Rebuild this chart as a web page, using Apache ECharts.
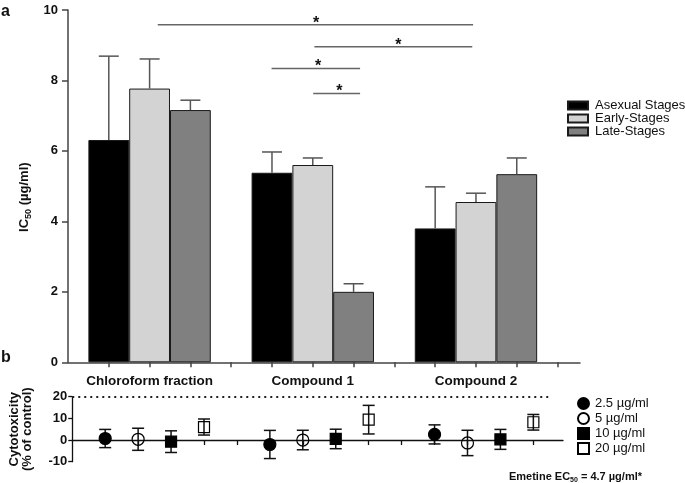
<!DOCTYPE html>
<html><head><meta charset="utf-8">
<script src="https://cdn.jsdelivr.net/npm/echarts@6/dist/echarts.min.js"></script>
<style>html,body{margin:0;padding:0;background:#fff}#c{width:685px;height:483px}</style>
</head><body><div id="c"></div>
<script>
// ---------- data ----------
const groups = ['Chloroform fraction', 'Compound 1', 'Compound 2'];
const stages = ['Asexual Stages', 'Early-Stages', 'Late-Stages'];
const asexual = [6.31, 5.38, 3.80];
const asexualErr = [2.38, 0.59, 1.18];
const early = [7.77, 5.60, 4.55];
const earlyErr = [0.84, 0.20, 0.25];
const late = [7.16, 2.00, 5.34];
const lateErr = [0.28, 0.23, 0.46];
// significance brackets: [from, to, height, star x] in axis units
const sigBrackets = [[2.2, 9.93, 9.58, 6.08], [6.04, 9.91, 8.96, 8.1], [4.99, 7.16, 8.34, 6.13], [6.01, 7.16, 7.63, 6.65]];
const yTicksTop = [0, 2, 4, 6, 8, 10];

const concs = ['2.5 µg/ml', '5 µg/ml', '10 µg/ml', '20 µg/ml'];
const cyto25 = [0.7, -2.05, 2.6];   const cyto25Err = [4.2, 6.5, 4.4];
const cyto5 = [0.35, 0.0, -1.35];   const cyto5Err = [5.1, 4.5, 5.85];
const cyto10 = [-0.75, 0.5, 0.3];   const cyto10Err = [5.0, 4.5, 4.6];
const cyto20 = [6.0, 9.4, 8.2];     const cyto20Err = [3.7, 6.6, 3.6];
const cytoThreshold = 20;
const yTicksBottom = [-10, 0, 10, 20];

// ---------- build ----------
const F = 'Liberation Sans, Arial, sans-serif';
const AX = '#444';
const stageVals = [asexual, early, late];
const stageErrs = [asexualErr, earlyErr, lateErr];
const stageColors = ['#000000', '#d3d3d3', '#808080'];
const topSlot = (g, s) => g * 4 + s + 1;
const botSlot = (g, c) => g * 5 + c + 1;
const cytoVals = [cyto25, cyto5, cyto10, cyto20];
const cytoErrs = [cyto25Err, cyto5Err, cyto10Err, cyto20Err];

function errRender(capHalf, color, both) {
  return function (params, api) {
    const x = api.value(0), m = api.value(1), e = api.value(2);
    const t = api.coord([x, m + e]);
    const b = api.coord([x, both ? m - e : m]);
    const st = { stroke: color, lineWidth: 1.5 };
    const ch = [
      { type: 'line', shape: { x1: t[0], y1: t[1], x2: b[0], y2: b[1] }, style: st },
      { type: 'line', shape: { x1: t[0] - capHalf, y1: t[1], x2: t[0] + capHalf, y2: t[1] }, style: st }
    ];
    if (both) ch.push({ type: 'line', shape: { x1: b[0] - capHalf, y1: b[1], x2: b[0] + capHalf, y2: b[1] }, style: st });
    return { type: 'group', children: ch };
  };
}

const series = [];
stages.forEach((name, s) => {
  series.push({
    name, type: 'bar', xAxisIndex: 0, yAxisIndex: 0,
    barWidth: 40.8, barGap: '-100%',
    itemStyle: { color: stageColors[s], borderColor: '#1a1a1a', borderWidth: 1 },
    data: groups.map((g, gi) => [topSlot(gi, s), stageVals[s][gi]]),
    z: 2
  });
});
const errData = [];
stages.forEach((n, s) => groups.forEach((g, gi) => errData.push([topSlot(gi, s), stageVals[s][gi], stageErrs[s][gi]])));
series.push({
  type: 'custom', xAxisIndex: 0, yAxisIndex: 0, silent: true, z: 3,
  encode: { x: 0, y: 1 }, renderItem: errRender(10, '#555', false), data: errData
});
series.push({
  type: 'custom', xAxisIndex: 0, yAxisIndex: 0, silent: true, z: 3,
  encode: { x: [0, 1], y: 2 },
  renderItem: function (params, api) {
    const a = api.coord([api.value(0), api.value(2)]);
    const b = api.coord([api.value(1), api.value(2)]);
    const sx = api.coord([api.value(3), api.value(2)])[0];
    return { type: 'group', children: [
      { type: 'line', shape: { x1: a[0], y1: a[1], x2: b[0], y2: b[1] }, style: { stroke: '#666', lineWidth: 1.5 } },
      { type: 'text', x: sx, y: a[1] - 1.5, style: { text: '*', font: 'bold 16px ' + F, fill: '#111', align: 'center', verticalAlign: 'middle' } }
    ] };
  },
  data: sigBrackets
});

// lower panel
const cytoErrAll = [];
concs.forEach((c, ci) => groups.forEach((g, gi) => cytoErrAll.push([botSlot(gi, ci), cytoVals[ci][gi], cytoErrs[ci][gi]])));
series.push({
  type: 'custom', xAxisIndex: 1, yAxisIndex: 1, silent: true, z: 3,
  encode: { x: 0, y: 1 }, renderItem: errRender(6, '#111', true), data: cytoErrAll
});
const symStyles = [
  { symbol: 'circle', size: 12, color: '#000', border: '#000' },
  { symbol: 'circle', size: 12, color: 'rgba(255,255,255,0)', border: '#000' },
  { symbol: 'rect', size: 11, color: '#000', border: '#000' },
  { symbol: 'rect', size: 11, color: 'rgba(255,255,255,0)', border: '#000' }
];
concs.forEach((c, ci) => {
  const ss = symStyles[ci];
  const sd = {
    name: c, type: 'scatter', xAxisIndex: 1, yAxisIndex: 1, z: 4,
    symbol: ss.symbol, symbolSize: ss.size,
    itemStyle: { color: ss.color, borderColor: ss.border, borderWidth: 1.2, opacity: 1 },
    data: groups.map((g, gi) => [botSlot(gi, ci), cytoVals[ci][gi]])
  };
  if (ci === 0) {
    sd.markLine = {
      silent: true, symbol: 'none', animation: false,
      lineStyle: { color: '#222', type: [2, 4], width: 2 },
      label: { show: false },
      data: [[{ coord: [0, cytoThreshold] }, { coord: [14.56, cytoThreshold] }]]
    };
  }
  series.push(sd);
});

const labelBold = { fontFamily: F, fontWeight: 'bold', fontSize: 13, color: '#111' };
const option = {
  backgroundColor: '#fff',
  animation: false,
  grid: [
    { left: 68, top: 10, width: 512, height: 352.3 },
    { left: 67, top: 396.7, width: 496, height: 65 }
  ],
  xAxis: [
    {
      gridIndex: 0, type: 'value', min: 0, max: 12.55,
      splitLine: { show: false },
      axisLine: { lineStyle: { color: AX, width: 1.5 } },
      axisTick: { show: true, length: 5, lineStyle: { color: AX, width: 1.5 }, customValues: [1,2,3,4,5,6,7,8,9,10,11,12] },
      axisLabel: {
        customValues: [2, 6, 10], margin: 12,
        formatter: v => groups[Math.round((v - 2) / 4)] || '',
        fontFamily: F, fontWeight: 'bold', fontSize: 13.5, color: '#111'
      }
    },
    {
      gridIndex: 1, type: 'value', min: 0, max: 14.9,
      splitLine: { show: false },
      axisLine: { onZero: true, lineStyle: { color: '#111', width: 1.3 } },
      axisTick: { show: true, length: 5, lineStyle: { color: '#111', width: 1.3 }, customValues: [1,2,3,4,5,6,7,8,9,10,11,12,13,14] },
      axisLabel: { show: false }
    }
  ],
  yAxis: [
    {
      gridIndex: 0, type: 'value', min: 0, max: 10, interval: 2,
      splitLine: { show: false },
      axisLine: { show: true, lineStyle: { color: AX, width: 1.5 } },
      axisTick: { show: true, length: 6, lineStyle: { color: AX, width: 1.5 } },
      axisLabel: Object.assign({ margin: 10 }, labelBold),
      name: '{a|IC}{s|50}{a| (µg/ml)}', nameLocation: 'middle', nameRotate: 90, nameGap: 31,
      nameTextStyle: {
        padding: [0, 22, 0, 0],
        rich: {
          a: { fontFamily: F, fontWeight: 'bold', fontSize: 13, lineHeight: 16, color: '#111' },
          s: { fontFamily: F, fontWeight: 'bold', fontSize: 9, lineHeight: 9, verticalAlign: 'bottom', color: '#111' }
        }
      }
    },
    {
      gridIndex: 1, type: 'value', min: -10, max: 20, interval: 10,
      splitLine: { show: false },
      axisLine: { show: true, lineStyle: { color: '#111', width: 1.3 } },
      axisTick: { show: true, length: 4, lineStyle: { color: '#111', width: 1.3 } },
      axisLabel: Object.assign({ margin: 5 }, labelBold),
      name: 'Cytotoxicity\n(% of control)', nameLocation: 'middle', nameRotate: 90, nameGap: 39,
      nameTextStyle: { fontFamily: F, fontWeight: 'bold', fontSize: 13, lineHeight: 12.5, color: '#111' }
    }
  ],
  legend: [
    {
      data: stages, orient: 'vertical', left: 562, top: 94, itemWidth: 20, itemHeight: 8, itemGap: 0,
      icon: 'rect', selectedMode: false,
      textStyle: { fontFamily: F, fontSize: 13, color: '#111', padding: [0, 0, 0, 2] }
    },
    {
      data: concs, orient: 'vertical', left: 572, top: 392, itemWidth: 11, itemHeight: 11, itemGap: 2,
      selectedMode: false,
      textStyle: { fontFamily: F, fontSize: 13, color: '#111', padding: [0, 0, 0, 1] }
    }
  ],
  graphic: [
    { type: 'text', x: 1, y: 12, style: { text: 'a', font: 'bold 16px ' + F, fill: '#111', verticalAlign: 'middle' } },
    { type: 'text', x: 1, y: 358, style: { text: 'b', font: 'bold 16px ' + F, fill: '#111', verticalAlign: 'middle' } },
    {
      type: 'text', x: 642, y: 477,
      style: {
        text: '{a|Emetine EC}{s|50}{a| = 4.7 µg/ml*}', align: 'right', verticalAlign: 'middle',
        rich: {
          a: { fontFamily: F, fontWeight: 'bold', fontSize: 11, lineHeight: 14, fill: '#111' },
          s: { fontFamily: F, fontWeight: 'bold', fontSize: 7, lineHeight: 7, verticalAlign: 'bottom', fill: '#111' }
        }
      }
    }
  ],
  series
};
const chart = echarts.init(document.getElementById('c'), null, { renderer: 'canvas' });
chart.setOption(option);
</script>
</body></html>
